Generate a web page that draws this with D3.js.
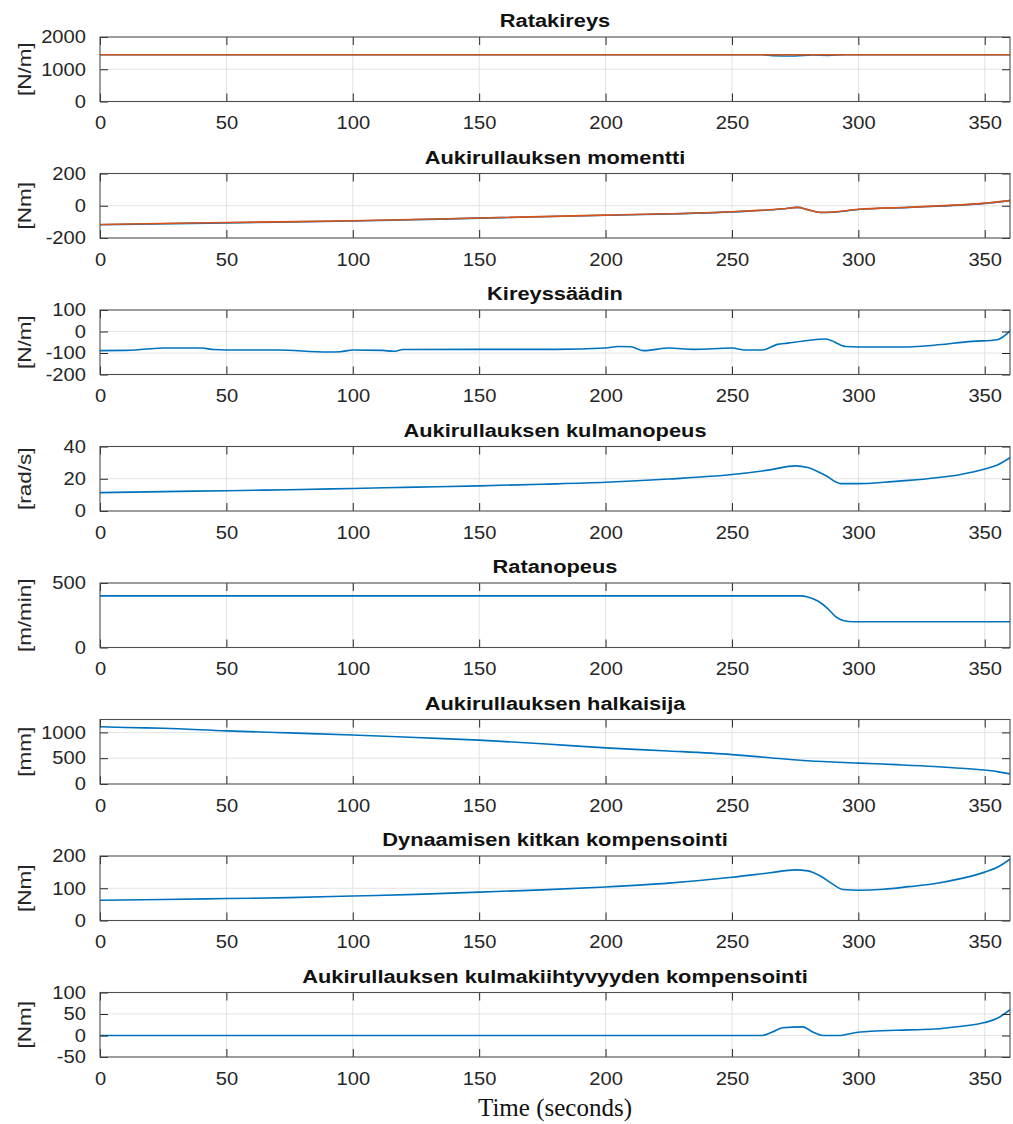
<!DOCTYPE html>
<html>
<head>
<meta charset="utf-8">
<script src="https://cdn.jsdelivr.net/npm/d3@7"></script>
<style>
  body { margin: 0; background: #fff; }
  svg text.sans { font-family: "Liberation Sans", Arial, Helvetica, sans-serif; }
  svg text.serif { font-family: "Liberation Serif", "Times New Roman", serif; }
</style>
</head>
<body>
<svg id="fig" width="1013" height="1124"></svg>
<script>
// ---- data: time axis ----
const timeDomain = [0, 360];
const timeTicks = [0, 50, 100, 150, 200, 250, 300, 350];

// ---- data: each series as [time s, value] ----
const tensionRef = [[0, 1450], [360, 1450]];
const tensionAct = [[0, 1450], [262, 1450], [266, 1420], [275, 1410], [282, 1440], [288, 1430], [295, 1450], [360, 1450]];

const torqueAct = [[0, -118], [50, -106], [100, -95], [150, -77], [200, -59], [250, -38], [270, -20], [276, -10], [280, -25], [285, -42], [290, -40], [300, -23], [320, -10], [350, 15], [360, 32]];
const torqueRef = [[0, -116], [50, -104], [100, -93], [150, -76], [200, -58], [250, -37], [270, -19], [276, -10], [280, -24], [285, -41], [290, -39], [300, -22], [320, -9], [350, 16], [360, 32]];

const controller = [[0, -89], [10, -88], [20, -80], [25, -77], [40, -77], [45, -84], [50, -86], [70, -86], [90, -95], [95, -94], [100, -86], [112, -88], [116, -92], [120, -84], [150, -83], [180, -83], [200, -77], [205, -70], [210, -71], [215, -89], [225, -77], [235, -83], [250, -77], [255, -86], [262, -86], [268, -60], [272, -54], [280, -42], [287, -35], [295, -70], [300, -72], [320, -72], [330, -64], [345, -46], [355, -38], [360, 3]];

const angSpeed = [[0, 11.4], [25, 12], [50, 12.6], [75, 13.2], [100, 14], [125, 14.8], [150, 15.6], [175, 16.6], [200, 17.8], [225, 19.8], [250, 22.6], [265, 25.5], [275, 28], [280, 27], [287, 22], [293, 17], [300, 17], [310, 17.8], [320, 19], [330, 20.5], [340, 22.5], [350, 26], [355, 28.5], [360, 33]];

const lineSpeed = [[0, 400], [277, 400], [280, 392], [284, 360], [288, 300], [291, 240], [294, 210], [298, 200], [360, 200]];

const diameter = [[0, 1110], [10, 1095], [25, 1080], [50, 1030], [75, 990], [100, 950], [125, 900], [150, 850], [175, 780], [200, 700], [225, 640], [250, 570], [265, 510], [280, 450], [300, 405], [315, 375], [330, 340], [345, 290], [355, 240], [360, 195]];

const friction = [[0, 63], [25, 65], [50, 68], [75, 71], [100, 76], [125, 81], [150, 88], [175, 95], [200, 104], [225, 116], [250, 134], [265, 148], [275, 157], [280, 154], [285, 138], [290, 112], [294, 96], [300, 94], [310, 97], [320, 105], [330, 114], [340, 129], [350, 150], [355, 165], [360, 190]];

const accel = [[0, 0], [262, 0], [266, 8], [270, 18], [278, 20], [282, 8], [286, 0], [293, 0], [298, 6], [305, 10], [320, 13], [330, 15], [340, 21], [350, 30], [355, 40], [360, 60]];

// ---- panel titles, units, y ranges ----
const titles = ["Ratakireys", "Aukirullauksen momentti", "Kireyssäädin", "Aukirullauksen kulmanopeus",
  "Ratanopeus", "Aukirullauksen halkaisija", "Dynaamisen kitkan kompensointi",
  "Aukirullauksen kulmakiihtyvyyden kompensointi"];
const units = ["[N/m]", "[Nm]", "[N/m]", "[rad/s]", "[m/min]", "[mm]", "[Nm]", "[Nm]"];
const yDomains = [[0, 2000], [-200, 200], [-200, 100], [0, 40], [0, 500], [0, 1250], [0, 200], [-50, 100]];
const yTicks = [[0, 1000, 2000], [-200, 0, 200], [-200, -100, 0, 100], [0, 20, 40], [0, 500],
  [0, 500, 1000], [0, 100, 200], [-50, 0, 50, 100]];
const seriesPerPanel = [
  [{ d: tensionAct, c: "blue" }, { d: tensionRef, c: "orange" }],
  [{ d: torqueAct, c: "blue" }, { d: torqueRef, c: "orange" }],
  [{ d: controller, c: "blue" }],
  [{ d: angSpeed, c: "blue" }],
  [{ d: lineSpeed, c: "blue" }],
  [{ d: diameter, c: "blue" }],
  [{ d: friction, c: "blue" }],
  [{ d: accel, c: "blue" }]
];
const xLabel = "Time (seconds)";

// ---- layout & style ----
const colors = { blue: "#0072BD", orange: "#D95319" };
const plotLeft = 100, plotRight = 1010;
const firstTop = 37, panelStep = 136.5, panelH = 64.5;
const SX = 1.12;            // horizontal text stretch for tick labels
const TSX = 1.18;           // horizontal text stretch for titles
const tickLen = 8;
const ink = "#262626";
const fmt = d => String(d);  // plain integers, hyphen minus, no thousands separator

const svg = d3.select("#fig");
svg.append("rect").attr("width", 1013).attr("height", 1124).attr("fill", "#fff");

const x = d3.scaleLinear().domain(timeDomain).range([plotLeft, plotRight]);

titles.forEach((title, i) => {
  const top = firstTop + i * panelStep;
  const bottom = top + panelH;
  const y = d3.scaleLinear().domain(yDomains[i]).range([bottom, top]);
  const g = svg.append("g");

  // grid
  g.append("g").selectAll("line").data(timeTicks.filter(t => t > 0)).join("line")
    .attr("x1", d => x(d)).attr("x2", d => x(d)).attr("y1", top).attr("y2", bottom)
    .attr("stroke", "#e3e3e3").attr("stroke-width", 1);
  g.append("g").selectAll("line").data(yTicks[i].filter(v => v > yDomains[i][0] && v < yDomains[i][1])).join("line")
    .attr("x1", plotLeft).attr("x2", plotRight).attr("y1", d => y(d)).attr("y2", d => y(d))
    .attr("stroke", "#e3e3e3").attr("stroke-width", 1);

  // data lines
  const clipId = "clip" + i;
  svg.append("clipPath").attr("id", clipId).append("rect")
    .attr("x", plotLeft).attr("y", top).attr("width", plotRight - plotLeft).attr("height", panelH);
  const line = d3.line().x(d => x(d[0])).y(d => y(d[1])).curve(d3.curveMonotoneX);
  seriesPerPanel[i].forEach(s => {
    g.append("path").datum(s.d).attr("d", line)
      .attr("fill", "none").attr("stroke", colors[s.c]).attr("stroke-width", 1.6)
      .attr("stroke-linejoin", "round").attr("clip-path", `url(#${clipId})`);
  });

  // axes: ticks pointing inward on all four sides
  const xb = d3.axisBottom(x).tickValues(timeTicks).tickFormat(fmt).tickSizeInner(-tickLen).tickSizeOuter(0).tickPadding(tickLen + 7);
  const xt = d3.axisTop(x).tickValues(timeTicks).tickSizeInner(-tickLen).tickSizeOuter(0).tickFormat("");
  const yl = d3.axisLeft(y).tickValues(yTicks[i]).tickFormat(fmt).tickSizeInner(-tickLen).tickSizeOuter(0).tickPadding(tickLen + 6);
  const yr = d3.axisRight(y).tickValues(yTicks[i]).tickSizeInner(-tickLen).tickSizeOuter(0).tickFormat("");

  const gxb = g.append("g").attr("transform", `translate(0,${bottom})`).call(xb);
  const gxt = g.append("g").attr("transform", `translate(0,${top})`).call(xt);
  const gyl = g.append("g").attr("transform", `translate(${plotLeft},0)`).call(yl);
  const gyr = g.append("g").attr("transform", `translate(${plotRight},0)`).call(yr);
  [gxb, gxt, gyl, gyr].forEach(a => {
    a.attr("font-family", null);
    a.select(".domain").remove();
    a.selectAll(".tick line").attr("stroke", ink).attr("stroke-width", 1);
    a.selectAll("text").attr("class", "sans").attr("fill", ink).attr("font-size", 18);
  });
  gxb.selectAll(".tick text").attr("dy", "0.71em").attr("transform", `scale(${SX},1)`);
  gyl.selectAll(".tick text").each(function () {
    const t = d3.select(this);
    t.attr("x", +t.attr("x") / SX).attr("transform", `scale(${SX},1)`);
  });

  // frame
  g.append("rect").attr("x", plotLeft).attr("y", top).attr("width", plotRight - plotLeft).attr("height", panelH)
    .attr("fill", "none").attr("stroke", "#4d4d4d").attr("stroke-width", 1.1);

  // title
  g.append("text").attr("class", "sans")
    .attr("transform", `translate(${(plotLeft + plotRight) / 2},${top - 10}) scale(${TSX},1)`)
    .attr("text-anchor", "middle").attr("font-size", 18.5).attr("font-weight", "bold").attr("fill", "#111")
    .text(title);

  // unit label
  g.append("text").attr("class", "sans")
    .attr("transform", `translate(31,${(top + bottom) / 2}) rotate(-90) scale(1.25,1)`)
    .attr("text-anchor", "middle").attr("font-size", 18).attr("fill", ink)
    .text(units[i]);
});

svg.append("text").attr("class", "serif").attr("x", (plotLeft + plotRight) / 2).attr("y", 1116)
  .attr("text-anchor", "middle").attr("font-size", 25).attr("fill", "#111").text(xLabel);
</script>
</body>
</html>
